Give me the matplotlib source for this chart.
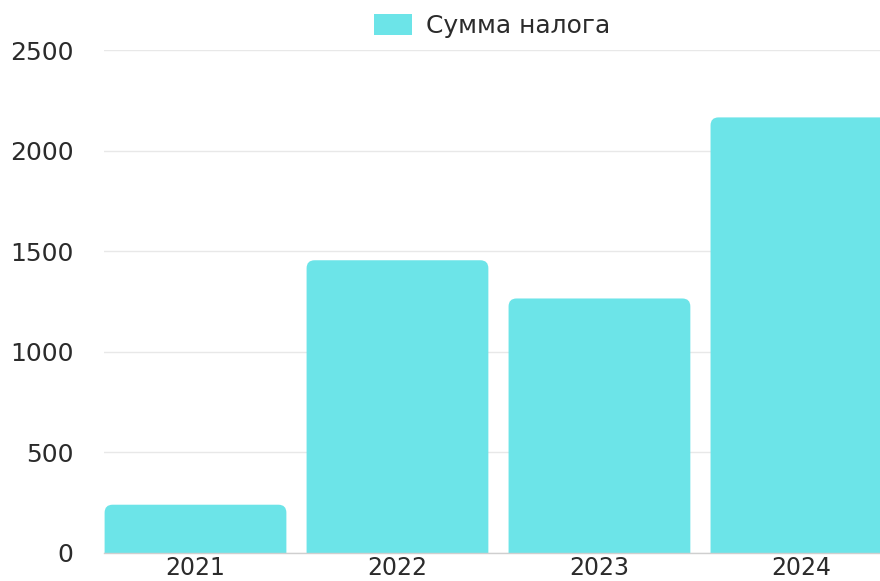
import matplotlib.pyplot as plt
from matplotlib.patches import FancyBboxPatch, Patch

years = ["2021", "2022", "2023", "2024"]
tax_sums = [240, 1455, 1265, 2165]
y_ticks = [0, 500, 1000, 1500, 2000, 2500]
series_name = "Сумма налога"

BAR_COLOR = "#6ce4e8"
TEXT_COLOR = "#2b2b2b"


def plot_data():
    fig = plt.figure(figsize=(8.8, 5.81), dpi=100)
    # axes run off the right edge, the last bar is cut
    ax = fig.add_axes([104 / 880, 28 / 581, 776 / 880, 503 / 581])
    ax.set_xlim(-0.453, 3.389)
    ax.set_ylim(0, 2500)

    # rounded bars; the bottom is pushed below zero and clipped so only the top is round
    px_x = 1 / 202.0
    px_y = 2500 / 503.0
    width = 0.9
    for i, val in enumerate(tax_sums):
        bar = FancyBboxPatch((i - width / 2, -60), width, val + 60,
                             boxstyle="round,pad=0,rounding_size=%f" % (8 * px_x),
                             mutation_aspect=px_y / px_x,
                             facecolor=BAR_COLOR, edgecolor="none", zorder=2)
        ax.add_patch(bar)

    ax.set_yticks(y_ticks)
    ax.set_xticks(range(len(years)))
    ax.set_xticklabels(years)
    ax.grid(axis="y", color="#e8e8e8", linewidth=1.0, zorder=0)
    ax.set_axisbelow(True)
    ax.tick_params(axis="both", length=0, labelsize=18, colors=TEXT_COLOR)
    ax.tick_params(axis="y", pad=22)
    ax.tick_params(axis="x", pad=2, labelsize=17)
    for side in ["top", "right", "left"]:
        ax.spines[side].set_visible(False)
    ax.spines["bottom"].set_color("#cfcfcf")
    ax.spines["bottom"].set_linewidth(1)

    handle = Patch(facecolor=BAR_COLOR, edgecolor="none")
    ax.legend([handle], [series_name], loc="center", bbox_to_anchor=(0.5, 1 + 24 / 503),
              frameon=False, fontsize=18, handlelength=1.5, handleheight=0.9,
              handletextpad=0.56, borderaxespad=0, borderpad=0, labelcolor=TEXT_COLOR)

    fig.savefig("out.png", dpi=100)


if __name__ == "__main__":
    plot_data()
